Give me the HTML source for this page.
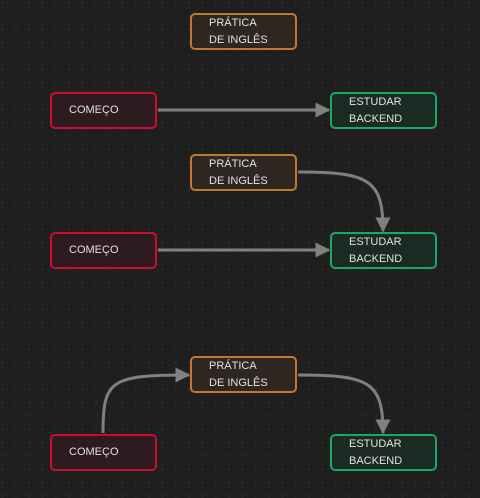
<!DOCTYPE html>
<html><head><meta charset="utf-8"><style>
html,body{margin:0;padding:0}
body{width:480px;height:498px;overflow:hidden;background-color:#1f1f1f;
background-image:radial-gradient(circle,#3a3a3a 0.8px,transparent 1.1px);background-size:13.33px 13.33px;background-position:-4px -4px;position:relative;
font-family:"Liberation Sans",sans-serif}
.n{position:absolute;width:103px;height:33px;border:2px solid;border-radius:5px;box-sizing:content-box;color:#e2e2e2;font-size:11px;line-height:17px}
.n span{position:absolute;left:17px;top:0px}
.r{border-color:#c8102e;background:#2d1b1f}
.r span{top:8px}
.o{border-color:#c07a30;background:#2e2621}
.g{border-color:#1aa865;background:#1c2a24}
svg{position:absolute;left:0;top:0}
</style></head><body>
<svg width="480" height="498">
<defs><marker id="a" markerWidth="5" markerHeight="5" refX="4.5" refY="2.5" orient="auto" markerUnits="strokeWidth"><path d="M0,0L5,2.5L0,5Z" fill="#808080"/></marker></defs>
<g stroke="#808080" stroke-width="3" fill="none">
<path d="M158,110H329" marker-end="url(#a)"/>
<path d="M158,250H329" marker-end="url(#a)"/>
<path d="M298,172C370,172 383,180 383,231" marker-end="url(#a)"/>
<path d="M103,433C103,380 110,375 189,375" marker-end="url(#a)"/>
<path d="M298,375C370,375 383,382 383,433" marker-end="url(#a)"/>
</g></svg>
<div class="n o" style="left:190px;top:13px"><span>PRÁTICA<br>DE INGLÊS</span></div>
<div class="n r" style="left:50px;top:92px"><span>COMEÇO</span></div>
<div class="n g" style="left:330px;top:92px"><span>ESTUDAR<br>BACKEND</span></div>
<div class="n o" style="left:190px;top:154px"><span>PRÁTICA<br>DE INGLÊS</span></div>
<div class="n r" style="left:50px;top:232px"><span>COMEÇO</span></div>
<div class="n g" style="left:330px;top:232px"><span>ESTUDAR<br>BACKEND</span></div>
<div class="n o" style="left:190px;top:356px"><span>PRÁTICA<br>DE INGLÊS</span></div>
<div class="n r" style="left:50px;top:434px"><span>COMEÇO</span></div>
<div class="n g" style="left:330px;top:434px"><span>ESTUDAR<br>BACKEND</span></div>
</body></html>
